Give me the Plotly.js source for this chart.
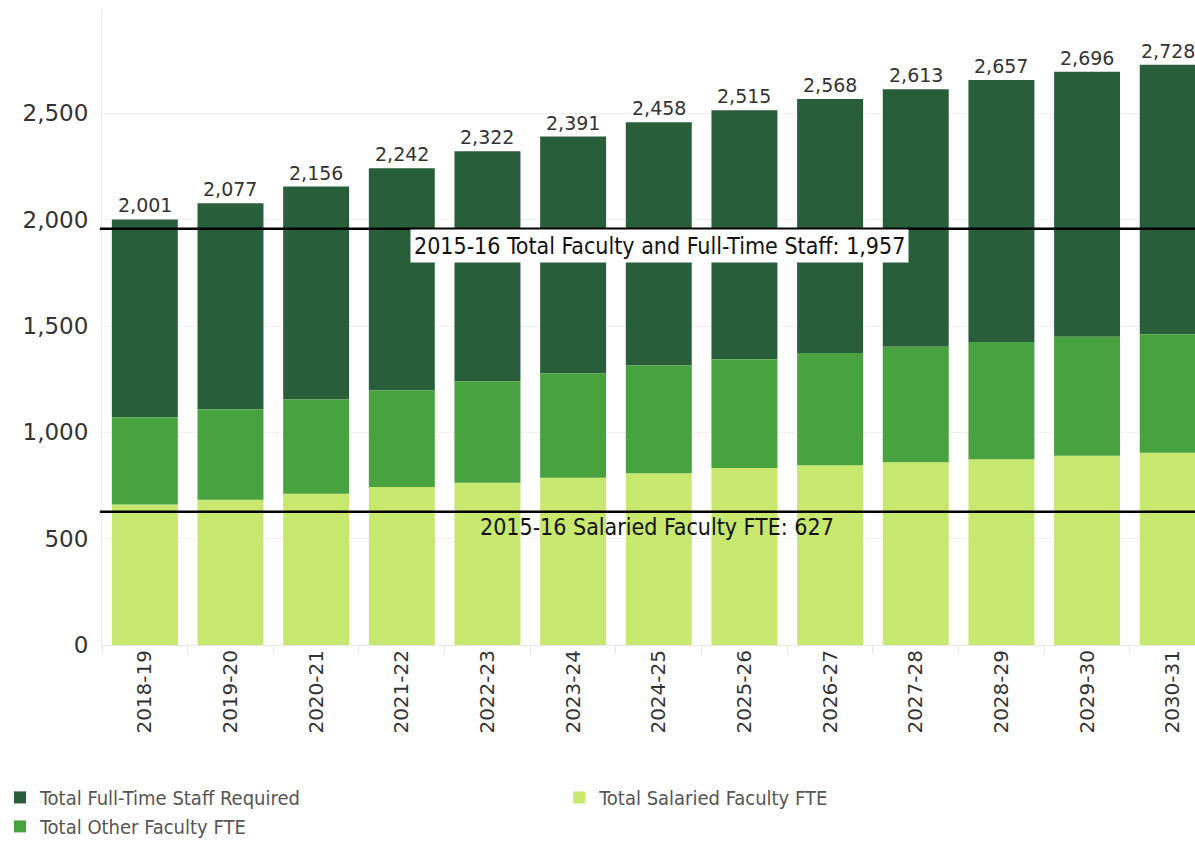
<!DOCTYPE html>
<html>
<head>
<meta charset="utf-8">
<script src="https://cdn.plot.ly/plotly-3.0.1.min.js"></script>
<style>html,body{margin:0;padding:0;background:#fff;}#chart{width:1195px;height:841px;}</style>
</head>
<body>
<div id="chart"></div>
<script>
const years = ["2018-19","2019-20","2020-21","2021-22","2022-23","2023-24","2024-25","2025-26","2026-27","2027-28","2028-29","2029-30","2030-31"];
const salariedFaculty = [661,683,711,743,763,787,808,832,845,859,874,890,904];
const otherFaculty = [410,425,443,455,477,491,506,512,528,544,551,559,557];
const fullTimeStaff = [930,969,1002,1044,1082,1113,1144,1171,1195,1210,1232,1247,1267];
const totals = [2001,2077,2156,2242,2322,2391,2458,2515,2568,2613,2657,2696,2728];
const refTotal = 1957;
const refSalaried = 627;
const refTotalLabel = "2015-16 Total Faculty and Full-Time Staff: 1,957";
const refSalariedLabel = "2015-16 Salaried Faculty FTE: 627";

const bw = 0.77;
const legendFont = {family:"Liberation Sans Narrow, DejaVu Sans Condensed, sans-serif", size:20, color:"#555"};

const traces = [
  {type:"bar", name:"Total Full-Time Staff Required", x:years, y:fullTimeStaff, width:bw, base:salariedFaculty.map((s,i)=>s+otherFaculty[i]),
   marker:{color:"#285E3A", line:{width:0}}, legend:"legend", legendrank:1, hoverinfo:"y"},
  {type:"bar", name:"Total Salaried Faculty FTE", x:years, y:salariedFaculty, width:bw, base:0,
   marker:{color:"#C7E76F", line:{width:0}}, legend:"legend2", legendrank:1, hoverinfo:"y"},
  {type:"bar", name:"Total Other Faculty FTE", x:years, y:otherFaculty, width:bw, base:salariedFaculty,
   marker:{color:"#47A23F", line:{width:0}}, legend:"legend", legendrank:2, hoverinfo:"y"}
];

const totalLabels = years.map((yr, i) => ({
  xref:"x", yref:"y", x:yr, y:totals[i], yanchor:"bottom", xanchor:"center",
  xshift: i === years.length - 1 ? -5 : 0, yshift:1,
  text: totals[i].toLocaleString("en-US"), showarrow:false,
  font:{family:"DejaVu Sans, sans-serif", size:19, color:"#333"}
}));

const layout = {
  width:1195, height:841,
  margin:{l:102, r:0, t:10, b:196},
  barmode:"overlay",
  plot_bgcolor:"#fff", paper_bgcolor:"#fff",
  showlegend:true,
  legend:{orientation:"h", xref:"container", yref:"container", x:0, xanchor:"left", y:0.075, yanchor:"top",
          entrywidth:540, entrywidthmode:"pixels", traceorder:"normal", font:legendFont, itemwidth:30, bgcolor:"rgba(0,0,0,0)"},
  legend2:{orientation:"h", xref:"container", yref:"container", x:0.468, xanchor:"left", y:0.075, yanchor:"top",
          traceorder:"normal", font:legendFont, itemwidth:30, bgcolor:"rgba(0,0,0,0)"},
  xaxis:{type:"category", range:[-0.5, 12.26], tickangle:-90, automargin:false,
         tickfont:{family:"DejaVu Sans, sans-serif", size:20, color:"#333"},
         ticks:"outside", tickson:"boundaries", ticklen:8, tickcolor:"#e6e6e6",
         showgrid:false, showline:false, zeroline:false, fixedrange:true},
  yaxis:{range:[0, 2986], automargin:false, tickvals:[0,500,1000,1500,2000,2500], ticktext:["0","500","1,000","1,500","2,000","2,500"],
         tickfont:{family:"DejaVu Sans, sans-serif", size:23, color:"#333"}, showgrid:true, gridcolor:"#f0f0f0", gridwidth:1,
         zeroline:true, zerolinecolor:"#e8e8e8", showline:true, linecolor:"#ececec", ticks:"", ticklabelstandoff:8},
  shapes:[
    {type:"line", xref:"paper", yref:"y", x0:-0.002, x1:1, y0:refTotal, y1:refTotal, line:{color:"#000", width:2.5}},
    {type:"line", xref:"paper", yref:"y", x0:-0.002, x1:1, y0:refSalaried, y1:refSalaried, line:{color:"#000", width:2.5}}
  ],
  annotations: totalLabels.concat([
    {xref:"paper", yref:"y", x:0.510, y:refTotal, yshift:-17, text:refTotalLabel, showarrow:false,
     bgcolor:"#fff", borderpad:3, font:{family:"DejaVu Sans Condensed, sans-serif", size:23, color:"#111"}},
    {xref:"paper", yref:"y", x:0.508, y:refSalaried, yshift:-15, text:refSalariedLabel, showarrow:false,
     font:{family:"DejaVu Sans Condensed, sans-serif", size:23, color:"#111"}}
  ])
};

Plotly.newPlot("chart", traces, layout, {displayModeBar:false, staticPlot:true});
</script>
</body>
</html>
